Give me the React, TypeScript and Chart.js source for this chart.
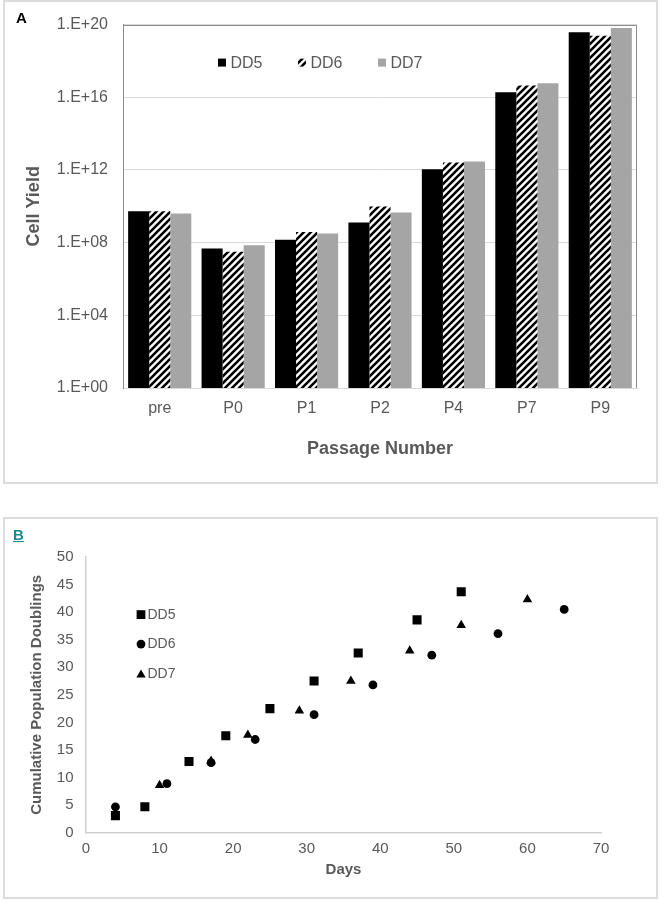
import React, { useEffect, useRef } from 'react';
import { Chart, registerables } from 'chart.js';

Chart.register(...registerables);

// ---------- Data: panel A (cell yield, log scale) ----------
const passages = ['pre', 'P0', 'P1', 'P2', 'P4', 'P7', 'P9'];
const dd5Yield = [5.3e9, 4.7e7, 1.45e8, 1.3e9, 1.1e12, 1.9e16, 3.8e19];
const dd6Yield = [5.3e9, 3.2e7, 3.8e8, 9.6e9, 2.6e12, 4.4e16, 2.4e19];
const dd7Yield = [4.0e9, 7.2e7, 3.2e8, 4.5e9, 2.9e12, 6.0e16, 6.6e19];
const yieldTickExponents = [0, 4, 8, 12, 16, 20];

// ---------- Data: panel B (cumulative population doublings) ----------
const dd5Days = [4, 8, 14, 19, 25, 31, 37, 45, 51];
const dd5Cpd = [3.1, 4.7, 12.9, 17.6, 22.5, 27.5, 32.6, 38.6, 43.7];
const dd6Days = [4, 11, 17, 23, 31, 39, 47, 56, 65];
const dd6Cpd = [4.7, 8.9, 12.7, 16.9, 21.4, 26.8, 32.2, 36.1, 40.5];
const dd7Days = [10, 17, 22, 29, 36, 44, 51, 60];
const dd7Cpd = [8.6, 13.0, 17.7, 22.1, 27.5, 33.0, 37.6, 42.3];

const seriesNames = ['DD5', 'DD6', 'DD7'];

const FONT = '"Liberation Sans", Arial, Helvetica, sans-serif';
const TEXT = '#595959';

function makeHatch(): CanvasPattern | string {
  const s = 7;
  const c = document.createElement('canvas');
  c.width = s;
  c.height = s;
  const g = c.getContext('2d');
  if (!g) return '#000';
  g.fillStyle = '#ffffff';
  g.fillRect(0, 0, s, s);
  g.strokeStyle = '#000000';
  g.lineWidth = 2.6;
  g.beginPath();
  for (const k of [-s, 0, s]) {
    g.moveTo(k - 1, s + 1);
    g.lineTo(k + s + 1, -1);
  }
  g.stroke();
  return g.createPattern(c, 'repeat') || '#000';
}

function drawMarker(ctx: CanvasRenderingContext2D, style: string, x: number, y: number, r: number) {
  ctx.beginPath();
  if (style === 'rect') {
    const h = Math.SQRT1_2 * r;
    ctx.rect(x - h, y - h, 2 * h, 2 * h);
  } else if (style === 'triangle') {
    let rad = 0;
    ctx.moveTo(x + Math.sin(rad) * r, y - Math.cos(rad) * r);
    rad += (2 * Math.PI) / 3;
    ctx.lineTo(x + Math.sin(rad) * r, y - Math.cos(rad) * r);
    rad += (2 * Math.PI) / 3;
    ctx.lineTo(x + Math.sin(rad) * r, y - Math.cos(rad) * r);
    ctx.closePath();
  } else {
    ctx.arc(x, y, r, 0, Math.PI * 2);
  }
  ctx.fill();
}

const frameLegendA = {
  id: 'frameLegendA',
  afterDatasetsDraw(chart: any) {
    const { ctx, chartArea: a } = chart;
    const l = Math.round(a.left) + 0.5;
    const t = Math.round(a.top) + 0.5;
    const r = Math.round(a.right) - 0.5;
    const b = Math.round(a.bottom);
    ctx.save();
    ctx.strokeStyle = '#8c8c8c';
    ctx.lineWidth = 1;
    ctx.beginPath();
    ctx.moveTo(l, b);
    ctx.lineTo(l, t);
    ctx.lineTo(r, t);
    ctx.lineTo(r, b);
    ctx.stroke();
    ctx.restore();
  },
  afterDraw(chart: any) {
    const { ctx, chartArea: a } = chart;
    ctx.save();
    ctx.font = `16px ${FONT}`;
    ctx.textBaseline = 'middle';
    ctx.textAlign = 'left';
    chart.data.datasets.forEach((ds: any, i: number) => {
      const x = a.left + 95 + i * 80;
      const y = a.top + 38;
      ctx.fillStyle = ds.backgroundColor;
      ctx.fillRect(x, y - 4, 8, 8);
      ctx.fillStyle = TEXT;
      ctx.fillText(ds.label, x + 12.5, y + 0.5);
    });
    ctx.restore();
  },
};

const legendB = {
  id: 'legendB',
  afterDraw(chart: any) {
    const { ctx, chartArea: a } = chart;
    ctx.save();
    ctx.font = `14px ${FONT}`;
    ctx.textBaseline = 'middle';
    ctx.textAlign = 'left';
    chart.data.datasets.forEach((ds: any, i: number) => {
      const cx = a.left + 55;
      const cy = a.top + 57.6 + i * 29.5;
      ctx.fillStyle = '#000';
      const rr = ds.pointStyle === 'rect' ? 6.2 : ds.pointStyle === 'triangle' ? 5.4 : 4.4;
      drawMarker(ctx, ds.pointStyle, cx, ds.pointStyle === 'triangle' ? cy + 1.2 : cy, rr);
      ctx.fillStyle = TEXT;
      ctx.fillText(ds.label, cx + 6.5, cy + 0.5);
    });
    ctx.restore();
  },
};

function formatExp(value: number): string {
  const e = Math.round(Math.log10(value));
  return `1.E+${String(e).padStart(2, '0')}`;
}

export default function App() {
  const refA = useRef<HTMLCanvasElement>(null);
  const refB = useRef<HTMLCanvasElement>(null);

  useEffect(() => {
    if (!refA.current || !refB.current) return;
    const hatch = makeHatch();

    const chartA = new Chart(refA.current, {
      type: 'bar',
      data: {
        labels: passages,
        datasets: [
          { label: seriesNames[0], data: dd5Yield, backgroundColor: '#000000' },
          { label: seriesNames[1], data: dd6Yield, backgroundColor: hatch as any },
          { label: seriesNames[2], data: dd7Yield, backgroundColor: '#a5a5a5' },
        ],
      },
      options: {
        responsive: false,
        maintainAspectRatio: false,
        animation: false,
        layout: { padding: { left: 0, right: 20, top: 22, bottom: 0 } },
        datasets: { bar: { categoryPercentage: 0.86, barPercentage: 1.0 } },
        plugins: { legend: { display: false }, tooltip: { enabled: false } },
        scales: {
          x: {
            grid: { color: 'rgba(0,0,0,0)', drawTicks: false },
            border: { display: true, color: '#d9d9d9', width: 1 },
            ticks: { padding: 11, color: TEXT, font: { family: FONT, size: 16 } },
            title: {
              display: true,
              text: 'Passage Number',
              color: TEXT,
              font: { family: FONT, size: 18, weight: 'bold' },
              padding: { top: 0, bottom: 23 },
            },
            afterFit: (s: any) => {
              s.height = 95;
            },
          },
          y: {
            type: 'logarithmic',
            min: 1,
            max: 1e20,
            afterBuildTicks: (s: any) => {
              s.ticks = yieldTickExponents.map((e) => ({ value: Math.pow(10, e) }));
            },
            grid: { color: '#d9d9d9', drawTicks: false },
            border: { display: true, color: '#8c8c8c', width: 1 },
            ticks: {
              padding: 15,
              color: TEXT,
              font: { family: FONT, size: 16 },
              autoSkip: false,
              callback: (v: any) => formatExp(Number(v)),
            },
            title: {
              display: true,
              text: 'Cell Yield',
              color: TEXT,
              font: { family: FONT, size: 18, weight: 'bold' },
              padding: { top: 19.4, bottom: 0 },
            },
            afterFit: (s: any) => {
              s.width = 119;
            },
          },
        },
      } as any,
      plugins: [frameLegendA],
    });

    const toPoints = (xs: number[], ys: number[]) => xs.map((x, i) => ({ x, y: ys[i] }));

    const chartB = new Chart(refB.current, {
      type: 'scatter',
      data: {
        datasets: [
          {
            label: seriesNames[0],
            data: toPoints(dd5Days, dd5Cpd),
            pointStyle: 'rect',
            pointRadius: 6.4,
            backgroundColor: '#000',
            borderColor: '#000',
            pointBorderWidth: 0,
          },
          {
            label: seriesNames[1],
            data: toPoints(dd6Days, dd6Cpd),
            pointStyle: 'circle',
            pointRadius: 4.4,
            backgroundColor: '#000',
            borderColor: '#000',
            pointBorderWidth: 0,
          },
          {
            label: seriesNames[2],
            data: toPoints(dd7Days, dd7Cpd),
            pointStyle: 'triangle',
            pointRadius: 5.5,
            backgroundColor: '#000',
            borderColor: '#000',
            pointBorderWidth: 0,
          },
        ],
      },
      options: {
        responsive: false,
        maintainAspectRatio: false,
        animation: false,
        layout: { padding: { left: 0, right: 56, top: 39, bottom: 0 } },
        plugins: { legend: { display: false }, tooltip: { enabled: false } },
        scales: {
          x: {
            type: 'linear',
            min: 0,
            max: 70,
            grid: { color: 'rgba(0,0,0,0)', drawTicks: false },
            border: { display: true, color: '#d0d0d0', width: 1.5 },
            ticks: { stepSize: 10, padding: 7.5, color: TEXT, font: { family: FONT, size: 15 } },
            title: {
              display: true,
              text: 'Days',
              color: TEXT,
              font: { family: FONT, size: 15, weight: 'bold' },
              padding: { top: 0, bottom: 19.5 },
            },
            afterFit: (s: any) => {
              s.height = 65.3;
            },
          },
          y: {
            type: 'linear',
            min: 0,
            max: 50,
            grid: { color: 'rgba(0,0,0,0)', drawTicks: false },
            border: { display: true, color: '#d0d0d0', width: 1.5 },
            ticks: { stepSize: 5, padding: 12.5, color: TEXT, font: { family: FONT, size: 15 } },
            title: {
              display: true,
              text: 'Cumulative Population Doublings',
              color: TEXT,
              font: { family: FONT, size: 15, weight: 'bold' },
              padding: { top: 24, bottom: 0 },
            },
            afterFit: (s: any) => {
              s.width = 82;
            },
          },
        },
      } as any,
      plugins: [legendB],
    });

    return () => {
      chartA.destroy();
      chartB.destroy();
    };
  }, []);

  return (
    <div style={{ position: 'absolute', left: 0, top: 0, width: 665, height: 900, background: '#ffffff' }}>
      <div
        style={{
          position: 'absolute',
          left: 3,
          top: 0,
          width: 655,
          height: 484,
          border: '2px solid #dcdcdc',
          boxSizing: 'border-box',
        }}
      />
      <canvas
        ref={refA}
        width={653}
        height={483}
        style={{ position: 'absolute', left: 4, top: 0, width: 653, height: 483 }}
      />
      <div
        style={{
          position: 'absolute',
          left: 16,
          top: 9.5,
          fontFamily: FONT,
          fontWeight: 'bold',
          fontSize: 15,
          lineHeight: '15px',
          color: '#000',
        }}
      >
        A
      </div>
      <div
        style={{
          position: 'absolute',
          left: 3,
          top: 517,
          width: 655,
          height: 382,
          border: '2px solid #dcdcdc',
          boxSizing: 'border-box',
        }}
      />
      <canvas
        ref={refB}
        width={653}
        height={380}
        style={{ position: 'absolute', left: 4, top: 518, width: 653, height: 380 }}
      />
      <div
        style={{
          position: 'absolute',
          left: 13,
          top: 527,
          fontFamily: FONT,
          fontWeight: 'bold',
          fontSize: 15,
          lineHeight: '15px',
          color: '#1b8a8c',
          textDecoration: 'underline',
        }}
      >
        B
      </div>
    </div>
  );
}
